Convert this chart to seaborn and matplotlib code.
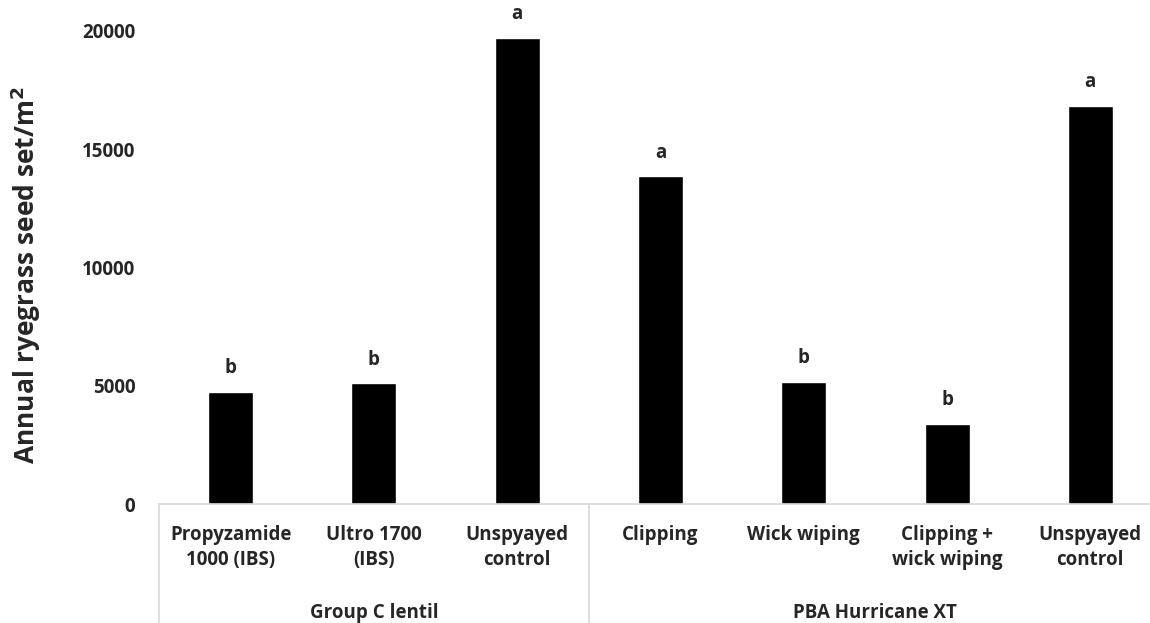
import numpy as np
import pandas as pd
import matplotlib
matplotlib.use("Agg")
import matplotlib.pyplot as plt
import matplotlib.transforms as mtransforms
import seaborn as sns

# datos
treatments = ["Propyzamide\n1000 (IBS)", "Ultro 1700\n(IBS)", "Unspyayed\ncontrol",
              "Clipping", "Wick wiping", "Clipping +\nwick wiping", "Unspyayed\ncontrol"]
seed_set = [4750, 5100, 19700, 13850, 5170, 3400, 16830]
letters = ["b", "b", "a", "a", "b", "b", "a"]
groups = ["Group C lentil", "PBA Hurricane XT"]
group_sizes = [3, 4]

sns.set_style("white")
plt.rcParams['font.family'] = ['Open Sans', 'DejaVu Sans']
plt.rcParams['font.weight'] = 'bold'

df = pd.DataFrame({"pos": list(range(len(seed_set))), "seed": seed_set})

fig = plt.figure(figsize=(11.5, 6.23), dpi=100)
ax = fig.add_axes([159 / 1150, 1 - 504 / 623, 1003 / 1150, 473 / 623])

sns.barplot(data=df, x="pos", y="seed", color="black", saturation=1, width=0.314, ax=ax)

ax.set_ylim(0, 20000)
ax.set_xlim(-0.5, 6.5)
ax.set_yticks([0, 5000, 10000, 15000, 20000])
ax.set_yticklabels(["0", "5000", "10000", "15000", "20000"])
ax.set_xticks(range(len(treatments)))
ax.set_xticklabels(treatments, linespacing=1.35)
ax.tick_params(axis="y", length=0, pad=17, labelsize=13.5)
ax.tick_params(axis="x", length=0, pad=15, labelsize=13.5)
ax.set_xlabel("")
ax.set_ylabel("Annual ryegrass seed set/m$^{\\mathbf{2}}$", fontsize=19, fontweight="bold")
ax.yaxis.set_label_coords((43 - 159) / 1003, (504 - 275) / 473)

for s in ["top", "right", "left"]:
    ax.spines[s].set_visible(False)
ax.spines["bottom"].set_color("#d9d9d9")
ax.spines["bottom"].set_linewidth(1.2)

# letras de significancia
for i, (v, l) in enumerate(zip(seed_set, letters)):
    ax.annotate(l, (i, v), xytext=(0, 13.5), textcoords="offset points",
                ha="center", va="baseline", fontsize=13.5, fontweight="bold", annotation_clip=False)

# eje de categorias agrupadas
trans = mtransforms.blended_transform_factory(ax.transData, fig.transFigure)
start = -0.5
bottom_axes = 1 - 504 / 623
ax.plot([start, start], [bottom_axes, 0], transform=trans, color="#d9d9d9", lw=1.2, clip_on=False)
for g, n in zip(groups, group_sizes):
    end = start + n
    ax.text((start + end) / 2, 1 - 613 / 623, g, transform=trans, ha="center", va="center",
            fontsize=13.5, fontweight="bold")
    ax.plot([end, end], [bottom_axes, 0], transform=trans, color="#d9d9d9", lw=1.2, clip_on=False)
    start = end

fig.savefig("out.png", dpi=100)
